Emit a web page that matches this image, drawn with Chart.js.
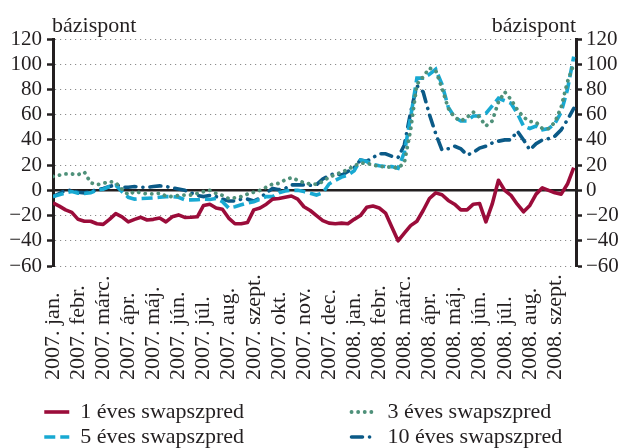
<!DOCTYPE html>
<html>
<head>
<meta charset="utf-8">
<script src="https://cdn.jsdelivr.net/npm/chart.js@4.4.0/dist/chart.umd.min.js"></script>
<style>
html,body{margin:0;padding:0;background:#ffffff;}
#wrap{position:relative;width:623px;height:448px;overflow:hidden;}
canvas{position:absolute;left:0;top:0;}
.unit{position:absolute;top:14px;font-family:"Liberation Serif",serif;font-size:22px;line-height:1;color:#231f20;white-space:nowrap;}
</style>
</head>
<body>
<div id="wrap">
  <canvas id="c" width="623" height="448"></canvas>
  <div class="unit" style="left:52px;">bázispont</div>
  <div class="unit" style="right:47px;">bázispont</div>
</div>
<script>
// ---- data ----
const months = ['2007. jan.','2007. febr.','2007. márc.','2007. ápr.','2007. máj.','2007. jún.','2007. júl.','2007. aug.','2007. szept.','2007. okt.','2007. nov.','2007. dec.','2008. jan.','2008. febr.','2008. márc.','2008. ápr.','2008. máj.','2008. jún.','2008. júl.','2008. aug.','2008. szept.'];
const seriesNames = ['1 éves swapszpred','3 éves swapszpred','5 éves swapszpred','10 éves swapszpred'];
// weekly readings (4 per month, starting 2007 jan.)
const swap1 = [-10,-12.5,-15.5,-17.5,-23,-24.5,-24.5,-26.5,-27,-23,
  -18.5,-21,-25,-23,-21.4,-23.5,-23,-22,-25,-21,
  -19.5,-21.5,-21.4,-21,-12,-11,-14,-15,-22,-26.5,
  -26.5,-25.5,-15.5,-14,-11,-7,-6.5,-5.5,-4.5,-7,
  -13,-16,-20,-24,-26,-26.5,-26,-26.5,-23,-20,
  -13.5,-12.5,-14,-18,-29,-40,-34,-28,-24.5,-16,
  -6.5,-2,-3.5,-8,-11,-15.5,-15.5,-11,-10.5,-25,
  -11,8,0,-4,-11,-17,-12,-3,2,0,
  -2,-3,5,18];
const swap3 = [11,12,13,13,12.5,14.5,6,4.5,5.5,7,
  6,1,-3.5,-1,-2,-2.8,-2.8,-2.3,-4.5,-5,
  -4,-3.7,-3.7,-2.5,-1,0,-2.5,-4,-6.5,-6,
  -5,-3,-1.5,0,2.5,5,5.5,8.3,10,8,
  6,5,4.8,7,10.5,12.5,14.5,16.5,19.5,21.5,
  21.5,20,19,18.5,18.5,17.5,22,48,84,90,
  97,95,81,65,58,55,58,62,58,51,
  55,70,78,72,64,58,54.6,54,49,49,
  54,66,86,100];
const swap5 = [-5,-3.5,-2,-1,-2.3,-2.5,-2,0.3,0.9,3,
  4,-1,-5.5,-7,-6.5,-6.3,-6,-5.5,-5,-5,
  -5.5,-7.5,-7.6,-7.5,-7,-7.3,-6.5,-9,-14,-13,
  -11.5,-10,-9,-7,-5,-5,-2,-0.5,0,0,
  -1,-2.3,-3.7,-2,5,8,10.5,12,15.5,24,
  22.8,20.5,19.5,18.8,18.8,17.5,30,58,89,89,
  92,96,84,66,58,55,55,59,59,61,
  67,73,71,69,61,51,49,51,48,49,
  53,62,80,106];
const swap10 = [-5,-2.5,0,0,-1.5,-2,-1,0.5,1.5,3,
  4.5,2.5,2.5,3,2.5,2.4,3,3.5,3,2,
  1,0,-2,-4,-5,-4,-5,-7,-8.5,-8.5,
  -7,-7,-8.5,-6,-2,1.5,0.5,1.5,4.3,4.3,
  4.3,4,4.5,9,11.5,13.6,12,15,18,24,
  23,26,29,29,27,26,36,62,83,78,
  60,45,32,33,35,33,28,30,33.5,35,
  37.5,39,40,40,47,40,32,37,40,41,
  43,48,56,65];
const yTickValues = [-60,-40,-20,0,20,40,60,80,100,120];

// ---- helpers ----
const STEP = 0.25; // one reading per quarter month
const toPoints = arr => arr.map((v, i) => ({x: i * STEP, y: v}));
const INK = '#231f20';
const FONT = '"Liberation Serif", serif';
const fmt = v => (v < 0 ? '\u2212' + Math.abs(v) : String(v));
const legendPad = [19, 5, 19, 3];

const bottomAlignLabels = {
  id: 'bottomAlignLabels',
  beforeDraw(chart) {
    const sc = chart.scales.x;
    const items = sc.getLabelItems();
    items.forEach(it => {
      it.options.textAlign = 'left';
      it.options.translation = [it.options.translation[0], 380];
    });
  }
};

new Chart(document.getElementById('c'), {
  type: 'line',
  data: {
    datasets: [
      {label: seriesNames[0], data: toPoints(swap1), borderColor: '#9b0c3a', backgroundColor: '#9b0c3a',
       borderWidth: 3.6, borderDash: [], borderCapStyle: 'butt', borderJoinStyle: 'round', pointRadius: 0, pointStyle: 'line'},
      {label: seriesNames[1], data: toPoints(swap3), borderColor: '#4f917a', backgroundColor: '#4f917a',
       borderWidth: 3.8, borderDash: [0.1, 6.5], borderCapStyle: 'round', pointRadius: 0, pointStyle: 'line'},
      {label: seriesNames[2], data: toPoints(swap5), borderColor: '#18a9d2', backgroundColor: '#18a9d2',
       borderWidth: 3.6, borderDash: [11, 5], borderCapStyle: 'butt', pointRadius: 0, pointStyle: 'line'},
      {label: seriesNames[3], data: toPoints(swap10), borderColor: '#0b5a87', backgroundColor: '#0b5a87',
       borderWidth: 3.6, borderDash: [11, 7, 0.1, 7], borderCapStyle: 'round', pointRadius: 0, pointStyle: 'line'}
    ]
  },
  options: {
    responsive: false,
    animation: false,
    devicePixelRatio: 1,
    layout: {padding: {top: 39, left: 0, right: 0, bottom: 0}},
    plugins: {
      tooltip: {enabled: false},
      title: {display: false},
      legend: {
        display: true,
        position: 'bottom',
        align: 'center',
        maxHeight: 50,
        labels: {
          usePointStyle: true,
          pointStyleWidth: 25,
          padding: 3,
          color: INK,
          font: {family: FONT, size: 22},
          generateLabels: chart => chart.data.datasets.map((ds, i) => ({
            text: ds.label + ' '.repeat(legendPad[i]),
            fillStyle: ds.borderColor,
            strokeStyle: ds.borderColor,
            fontColor: INK,
            lineWidth: ds.borderWidth,
            lineDash: ds.borderDash,
            lineCap: ds.borderCapStyle,
            pointStyle: 'line',
            hidden: false,
            datasetIndex: i
          }))
        }
      }
    },
    scales: {
      x: {
        type: 'linear',
        position: 'bottom',
        min: 0,
        max: 20.84,
        afterBuildTicks: s => { s.ticks = months.map((_, i) => ({value: i})); },
        afterFit: s => { s.height = 132; },
        grid: {display: false, drawTicks: false},
        border: {display: false},
        ticks: {
          autoSkip: false, minRotation: 90, maxRotation: 90, padding: 4,
          color: INK, font: {family: FONT, size: 22},
          callback: v => months[v]
        }
      },
      x2: {
        type: 'linear',
        axis: 'x',
        position: {y: 0},
        min: 0, max: 1,
        display: true,
        grid: {display: false, drawTicks: false},
        ticks: {display: false},
        border: {display: true, color: INK, width: 2.6}
      },
      y: {
        type: 'linear',
        position: 'left',
        min: -60, max: 120,
        afterBuildTicks: s => { s.ticks = yTickValues.map(v => ({value: v})); },
        afterFit: s => { s.width = 53; },
        grid: {
          color: c => (c.tick && c.tick.value === 0 ? 'rgba(0,0,0,0)' : '#8c8c8c'),
          lineWidth: 1,
          drawTicks: true, tickLength: 6, tickColor: INK, tickWidth: 2.5, tickBorderDash: []
        },
        border: {display: true, color: INK, width: 3, dash: [1.2, 3.8]},
        ticks: {autoSkip: false, color: INK, font: {family: FONT, size: 21}, padding: 5, callback: v => fmt(v)}
      },
      y2: {
        type: 'linear',
        position: 'right',
        min: -60, max: 120,
        afterBuildTicks: s => { s.ticks = yTickValues.map(v => ({value: v})); },
        afterFit: s => { s.width = 47; },
        grid: {drawOnChartArea: false, drawTicks: true, tickLength: 6, tickColor: INK, tickWidth: 2.5, color: INK},
        border: {display: true, color: INK, width: 3},
        ticks: {autoSkip: false, color: INK, font: {family: FONT, size: 21}, padding: 4, callback: v => fmt(v)}
      }
    }
  },
  plugins: [bottomAlignLabels]
});
</script>
</body>
</html>
